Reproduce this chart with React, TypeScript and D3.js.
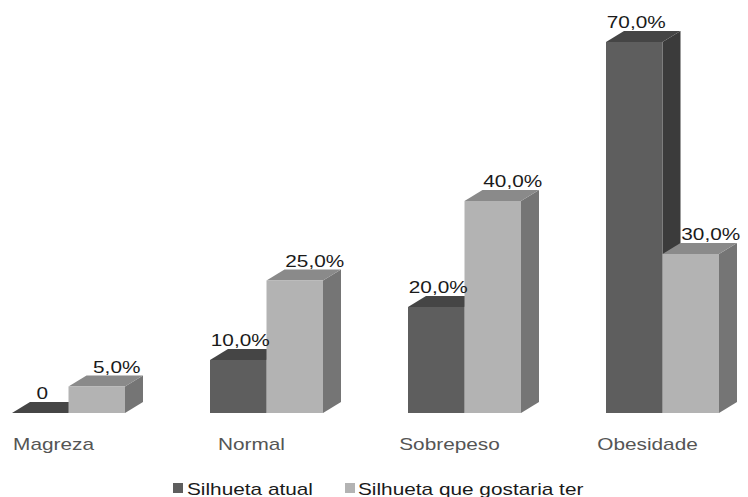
import React from "react";
import * as d3 from "d3";

const categories = ["Magreza", "Normal", "Sobrepeso", "Obesidade"];
const seriesNames = ["Silhueta atual", "Silhueta que gostaria ter"];
const atual = [0, 10, 20, 70];
const gostaria = [5, 25, 40, 30];

const W = 748;
const H = 497;
const DX = 18;
const DY = -11;
const SX = 1.3;
const FONT = "'Liberation Sans', Arial, sans-serif";

const palettes = [
  { front: "#5e5e5e", top: "#454545", side: "#3b3b3b" },
  { front: "#b3b3b3", top: "#8a8a8a", side: "#757575" },
];

const fmt = (v: number) => (v === 0 ? "0" : v.toFixed(1).replace(".", ",") + "%");

export default function App() {
  const x = d3.scaleBand<string>().domain(categories).range([12, 12 + 198 * 4]).paddingInner(0).paddingOuter(0);
  const inner = d3.scaleBand<string>().domain(seriesNames).range([0, 113]).padding(0);
  const y = d3.scaleLinear().domain([0, 70]).range([413, 42]);
  const series = [atual, gostaria];

  const bars: React.ReactNode[] = [];
  const labels: React.ReactNode[] = [];
  categories.forEach((c, ci) => {
    series.forEach((vals, si) => {
      const v = vals[ci];
      const x0 = (x(c) as number) + (inner(seriesNames[si]) as number);
      const w = inner.bandwidth();
      const x1 = x0 + w;
      const yt = y(v);
      const yb = y(0);
      const p = palettes[si];
      const key = `${ci}-${si}`;
      bars.push(
        <g key={key}>
          {v > 0 && (
            <polygon
              points={`${x1},${yt} ${x1 + DX},${yt + DY} ${x1 + DX},${yb + DY} ${x1},${yb}`}
              fill={p.side}
            />
          )}
          <polygon
            points={`${x0},${yt} ${x0 + DX},${yt + DY} ${x1 + DX},${yt + DY} ${x1},${yt}`}
            fill={p.top}
          />
          {v > 0 && <rect x={x0} y={yt} width={w} height={yb - yt} fill={p.front} />}
        </g>
      );
      const lx = x0 + w / 2 + (si === 0 ? 2 : 20);
      const ly = yt + DY - 3;
      labels.push(
        <text
          key={"l" + key}
          transform={`translate(${lx},${ly}) scale(${SX},1)`}
          textAnchor="middle"
          fontSize={16}
          fontFamily={FONT}
          fill="#1a1a1a"
        >
          {fmt(v)}
        </text>
      );
    });
  });

  const catLabels = categories.map((c) => (
    <text
      key={"c" + c}
      transform={`translate(${(x(c) as number) + 56.5 - 15},450) scale(${SX},1)`}
      textAnchor="middle"
      fontSize={16}
      fontFamily={FONT}
      fill="#555555"
    >
      {c}
    </text>
  ));

  // legend
  const legendItems = [
    { name: seriesNames[0], color: palettes[0].front, sx: 173, tx: 187 },
    { name: seriesNames[1], color: palettes[1].front, sx: 345, tx: 358 },
  ];

  return (
    <svg
      width={W}
      height={H}
      style={{ position: "absolute", left: 0, top: 0, background: "#ffffff" }}
    >
      <rect x={0} y={0} width={W} height={H} fill="#ffffff" />
      {bars}
      {labels}
      {catLabels}
      {legendItems.map((it) => (
        <g key={it.name}>
          <rect x={it.sx} y={483} width={10} height={10} fill={it.color} />
          <text
            transform={`translate(${it.tx},495) scale(${SX},1)`}
            fontSize={16}
            fontFamily={FONT}
            fill="#1a1a1a"
          >
            {it.name}
          </text>
        </g>
      ))}
    </svg>
  );
}
